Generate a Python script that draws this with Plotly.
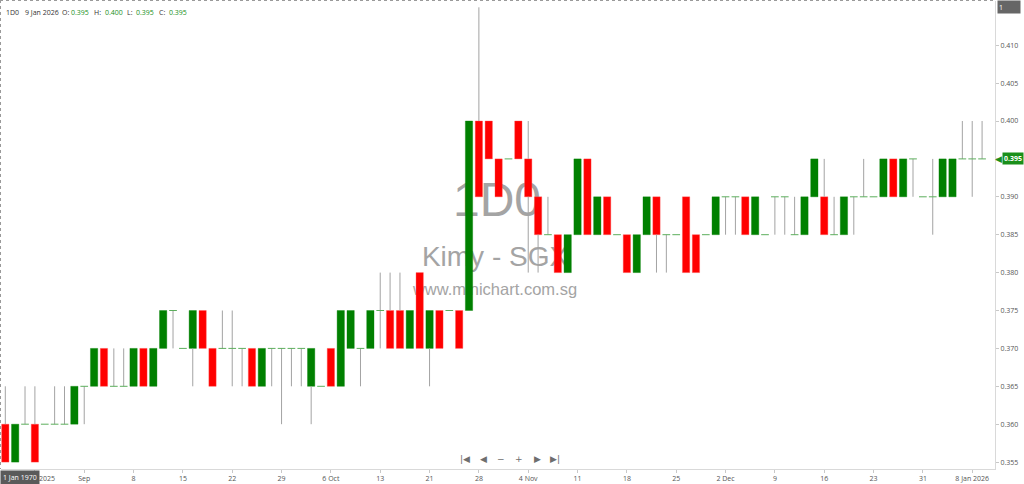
import plotly.graph_objects as go

# ---------------- data ----------------
dates = [
    "2025-08-20", "2025-08-21", "2025-08-22", "2025-08-25", "2025-08-26", "2025-08-27", "2025-08-28", "2025-08-29",
    "2025-09-01", "2025-09-02", "2025-09-03", "2025-09-04", "2025-09-05",
    "2025-09-08", "2025-09-09", "2025-09-10", "2025-09-11", "2025-09-12",
    "2025-09-15", "2025-09-16", "2025-09-17", "2025-09-18", "2025-09-19",
    "2025-09-22", "2025-09-23", "2025-09-24", "2025-09-25", "2025-09-26",
    "2025-09-29", "2025-09-30", "2025-10-01", "2025-10-02", "2025-10-03",
    "2025-10-06", "2025-10-07", "2025-10-08", "2025-10-09", "2025-10-10",
    "2025-10-13", "2025-10-14", "2025-10-15", "2025-10-16", "2025-10-17",
    "2025-10-21", "2025-10-22", "2025-10-23", "2025-10-24",
    "2025-10-27", "2025-10-28", "2025-10-29", "2025-10-30", "2025-10-31",
    "2025-11-03", "2025-11-04", "2025-11-05", "2025-11-06", "2025-11-07",
    "2025-11-10", "2025-11-11", "2025-11-12", "2025-11-13", "2025-11-14",
    "2025-11-17", "2025-11-18", "2025-11-19", "2025-11-20", "2025-11-21",
    "2025-11-24", "2025-11-25", "2025-11-26", "2025-11-27", "2025-11-28",
    "2025-12-01", "2025-12-02", "2025-12-03", "2025-12-04", "2025-12-05",
    "2025-12-08", "2025-12-09", "2025-12-10", "2025-12-11", "2025-12-12",
    "2025-12-15", "2025-12-16", "2025-12-17", "2025-12-18", "2025-12-19",
    "2025-12-22", "2025-12-23", "2025-12-24", "2025-12-26",
    "2025-12-29", "2025-12-30", "2025-12-31",
    "2026-01-02", "2026-01-05", "2026-01-06", "2026-01-07", "2026-01-08", "2026-01-09",
]

opens = [
    0.360, 0.355, 0.360, 0.360, 0.360, 0.360, 0.360, 0.360, 0.365, 0.365,
    0.370, 0.365, 0.365, 0.365, 0.370, 0.365, 0.370, 0.375, 0.370, 0.370,
    0.375, 0.370, 0.370, 0.370, 0.370, 0.370, 0.365, 0.370, 0.370, 0.370,
    0.370, 0.365, 0.365, 0.370, 0.365, 0.370, 0.370, 0.370, 0.375, 0.375,
    0.375, 0.370, 0.380, 0.370, 0.375, 0.375, 0.375, 0.375, 0.400, 0.400,
    0.395, 0.395, 0.400, 0.395, 0.390, 0.385, 0.385, 0.380, 0.385, 0.395,
    0.385, 0.390, 0.385, 0.385, 0.380, 0.385, 0.390, 0.385, 0.385, 0.390,
    0.385, 0.385, 0.385, 0.390, 0.390, 0.390, 0.385, 0.385, 0.390, 0.390,
    0.385, 0.385, 0.390, 0.390, 0.385, 0.385, 0.390, 0.390, 0.390, 0.390,
    0.395, 0.390, 0.395, 0.390, 0.390, 0.390, 0.390, 0.395, 0.395, 0.395,
]
highs = [
    0.365, 0.360, 0.365, 0.365, 0.360, 0.365, 0.365, 0.365, 0.365, 0.370,
    0.370, 0.370, 0.370, 0.370, 0.370, 0.370, 0.375, 0.375, 0.370, 0.375,
    0.375, 0.370, 0.375, 0.375, 0.370, 0.370, 0.370, 0.370, 0.370, 0.370,
    0.370, 0.370, 0.365, 0.370, 0.375, 0.375, 0.370, 0.375, 0.380, 0.380,
    0.380, 0.375, 0.380, 0.375, 0.375, 0.375, 0.375, 0.400, 0.415, 0.400,
    0.395, 0.395, 0.400, 0.400, 0.390, 0.390, 0.385, 0.385, 0.395, 0.395,
    0.390, 0.390, 0.385, 0.385, 0.385, 0.390, 0.390, 0.385, 0.385, 0.390,
    0.385, 0.385, 0.390, 0.390, 0.390, 0.390, 0.390, 0.385, 0.390, 0.390,
    0.390, 0.390, 0.395, 0.395, 0.390, 0.390, 0.390, 0.395, 0.390, 0.395,
    0.395, 0.395, 0.395, 0.390, 0.395, 0.395, 0.395, 0.400, 0.400, 0.400,
]
lows = [
    0.355, 0.355, 0.360, 0.355, 0.360, 0.360, 0.360, 0.360, 0.360, 0.365,
    0.365, 0.365, 0.365, 0.365, 0.365, 0.365, 0.370, 0.370, 0.370, 0.365,
    0.370, 0.365, 0.370, 0.365, 0.365, 0.365, 0.365, 0.365, 0.360, 0.365,
    0.365, 0.360, 0.365, 0.365, 0.365, 0.370, 0.365, 0.370, 0.370, 0.370,
    0.370, 0.370, 0.370, 0.365, 0.370, 0.375, 0.370, 0.375, 0.390, 0.395,
    0.390, 0.395, 0.395, 0.380, 0.380, 0.385, 0.380, 0.380, 0.385, 0.385,
    0.385, 0.385, 0.385, 0.380, 0.380, 0.385, 0.380, 0.380, 0.385, 0.380,
    0.380, 0.385, 0.385, 0.385, 0.385, 0.385, 0.385, 0.385, 0.385, 0.385,
    0.385, 0.385, 0.390, 0.385, 0.385, 0.385, 0.385, 0.390, 0.390, 0.390,
    0.390, 0.390, 0.390, 0.390, 0.385, 0.390, 0.390, 0.395, 0.390, 0.395,
]
closes = [
    0.355, 0.360, 0.360, 0.355, 0.360, 0.360, 0.360, 0.365, 0.365, 0.370,
    0.365, 0.365, 0.365, 0.370, 0.365, 0.370, 0.375, 0.375, 0.370, 0.375,
    0.370, 0.365, 0.370, 0.370, 0.370, 0.365, 0.370, 0.370, 0.370, 0.370,
    0.370, 0.370, 0.365, 0.365, 0.375, 0.375, 0.370, 0.375, 0.375, 0.370,
    0.370, 0.375, 0.370, 0.375, 0.370, 0.375, 0.370, 0.400, 0.390, 0.395,
    0.390, 0.395, 0.395, 0.390, 0.385, 0.385, 0.380, 0.385, 0.395, 0.385,
    0.390, 0.385, 0.385, 0.380, 0.385, 0.390, 0.385, 0.385, 0.385, 0.380,
    0.380, 0.385, 0.390, 0.390, 0.390, 0.385, 0.390, 0.385, 0.390, 0.390,
    0.385, 0.390, 0.395, 0.385, 0.385, 0.390, 0.390, 0.390, 0.390, 0.395,
    0.390, 0.395, 0.395, 0.390, 0.390, 0.395, 0.395, 0.395, 0.395, 0.395,
]

tick_dates = ["2025-08-25", "2025-09-01", "2025-09-08", "2025-09-15", "2025-09-22", "2025-09-29",
              "2025-10-06", "2025-10-13", "2025-10-21", "2025-10-28", "2025-11-04", "2025-11-11",
              "2025-11-18", "2025-11-25", "2025-12-02", "2025-12-09", "2025-12-16", "2025-12-23",
              "2025-12-31", "2026-01-08"]
tick_labels = ["25 Aug 2025", "Sep", "8", "15", "22", "29", "6 Oct", "13", "21", "28", "4 Nov", "11",
               "18", "25", "2 Dec", "9", "16", "23", "31", "8 Jan 2026"]

price_ticks = [0.355, 0.360, 0.365, 0.370, 0.375, 0.380, 0.385, 0.390, 0.395, 0.400, 0.405, 0.410]
price_labels = ["0.355", "0.360", "0.365", "0.370", "0.375", "0.380", "0.385", "0.390", "",
                "0.400", "0.405", "0.410"]   # 0.395 is shown by the last-price marker

symbol = "1D0"
last_date = "9 Jan 2026"
last_o, last_h, last_l, last_c = "0.395", "0.400", "0.395", "0.395"

# ---------------- styling ----------------
W, H = 1024, 484
ML, MR, MT, MB = 1, 29, 1, 15
PW, PH = W - ML - MR, H - MT - MB

GREEN = "#008000"
RED = "#ff0000"
WICK = "#a3a3a3"
TXT = "#555555"
FONT = "Open Sans"


def px_x(px):
    return (px - ML) / PW


def px_y(py):
    return (H - MB - py) / PH


# derived drawing arrays
body_base, body_h, body_col, body_line = [], [], [], []
doji_x, doji_y = [], []
wick_x, wick_y = [], []
for d, o, h, l, c in zip(dates, opens, highs, lows, closes):
    top, bot = max(o, c), min(o, c)
    if h > top + 1e-9:
        wick_x += [d, d, None]
        wick_y += [top, h, None]
    if l < bot - 1e-9:
        wick_x += [d, d, None]
        wick_y += [l, bot, None]
    if abs(c - o) < 1e-9:
        body_base.append(None)
        body_h.append(None)
        body_col.append(GREEN)
        body_line.append(GREEN)
        doji_x.append(d)
        doji_y.append(o)
    else:
        body_base.append(bot)
        body_h.append(top - bot)
        up = c > o
        body_col.append(GREEN if up else RED)
        body_line.append("rgba(0,128,0,0.45)" if up else "rgba(255,80,80,0.45)")

fig = go.Figure()

# watermark (base subplot, drawn beneath the candles)
fig.add_trace(go.Scatter(
    x=[px_x(497), px_x(495), px_x(495)],
    y=[px_y(204), px_y(259), px_y(291)],
    mode="text",
    text=[symbol, "Kimy - SGX", "www.minichart.com.sg"],
    textfont=dict(family="Liberation Sans", size=[48, 28, 16.5], color="#a4a4a4"),
    hoverinfo="skip", showlegend=False, xaxis="x", yaxis="y",
))

# candle bodies
fig.add_trace(go.Bar(
    x=dates, y=body_h, base=body_base, width=0.74,
    marker=dict(color=body_col, line=dict(color=body_line, width=0.8)),
    hoverinfo="skip", showlegend=False, xaxis="x2", yaxis="y2",
))
# wicks (outside the bodies)
fig.add_trace(go.Scatter(
    x=wick_x, y=wick_y, mode="lines", line=dict(color=WICK, width=1),
    hoverinfo="skip", showlegend=False, xaxis="x2", yaxis="y2",
))
# flat (open == close) bars
fig.add_trace(go.Scatter(
    x=doji_x, y=doji_y, mode="markers",
    marker=dict(symbol="line-ew", size=5.5, line=dict(color="#5cae5c", width=1)),
    hoverinfo="skip", showlegend=False, xaxis="x2", yaxis="y2",
))

annotations = []
# header
hdr = [(4, symbol, "#333333"), (23, last_date, "#333333"), (60, "O:", "#333333"), (69, last_o, "#1a8f1a"),
       (92, "H:", "#333333"), (103, last_h, "#1a8f1a"), (125, "L:", "#333333"), (134, last_l, "#1a8f1a"),
       (157, "C:", "#333333"), (167, last_c, "#1a8f1a")]
for x, t, col in hdr:
    annotations.append(dict(xref="paper", yref="paper", x=px_x(x), y=px_y(12), xanchor="left",
                            yanchor="middle", text=t, showarrow=False,
                            font=dict(family=FONT, size=7, color=col)))
# navigation controls
nav = [(465, "|◀"), (483, "◀"), (501, "−"), (519, "+"), (537, "▶"), (555, "▶|")]
for x, t in nav:
    annotations.append(dict(xref="paper", yref="paper", x=px_x(x), y=px_y(459), xanchor="center",
                            yanchor="middle", text=t, showarrow=False,
                            font=dict(family="DejaVu Sans", size=9, color="#6e6e6e")))
# last price marker
annotations.append(dict(xref="paper", yref="y2", x=px_x(1002), y=0.395, xanchor="left", yanchor="middle",
                        text="<b>0.395</b>", showarrow=False, bgcolor="#1a8f1a", borderpad=1,
                        font=dict(family=FONT, size=7, color="white")))
annotations.append(dict(xref="paper", yref="y2", x=px_x(1003.5), y=0.395, xanchor="right", yanchor="middle",
                        text="◀", showarrow=False,
                        font=dict(family="DejaVu Sans", size=9, color="#1a8f1a")))
# top-right box
annotations.append(dict(xref="paper", yref="paper", x=px_x(997), y=px_y(0), xanchor="left", yanchor="top",
                        text="1", showarrow=False, bgcolor="#666666", width=20, height=10, align="left",
                        font=dict(family=FONT, size=7, color="white")))
# bottom-left date box
annotations.append(dict(xref="paper", yref="paper", x=px_x(0), y=px_y(470), xanchor="left", yanchor="top",
                        text="1 Jan 1970", showarrow=False, bgcolor="#5a5a5a", borderpad=2,
                        font=dict(family=FONT, size=7, color="white")))

shapes = [
    dict(type="line", xref="paper", yref="paper", x0=px_x(0), x1=px_x(995), y0=px_y(0.5), y1=px_y(0.5),
         line=dict(color="#9a9a9a", width=1, dash="dot")),
    dict(type="line", xref="paper", yref="paper", x0=px_x(0.5), x1=px_x(0.5), y0=px_y(0), y1=px_y(469),
         line=dict(color="#9a9a9a", width=1, dash="dot")),
]

fig.update_layout(
    template="none",
    width=W, height=H,
    margin=dict(l=ML, r=MR, t=MT, b=MB, pad=0),
    paper_bgcolor="white", plot_bgcolor="white",
    showlegend=False,
    barmode="overlay",
    font=dict(family=FONT, size=7, color=TXT),
    xaxis=dict(range=[0, 1], visible=False, fixedrange=True),
    yaxis=dict(range=[0, 1], visible=False, fixedrange=True),
    xaxis2=dict(
        overlaying="x", anchor="y2", side="bottom", type="category",
        categoryorder="array", categoryarray=dates,
        range=[-0.436, 100.31],
        tickmode="array", tickvals=tick_dates, ticktext=tick_labels,
        ticks="outside", ticklen=3, tickcolor="#c8c8c8", tickwidth=1,
        showline=True, linecolor="#d9d9d9", linewidth=1,
        showgrid=False, zeroline=False,
        tickfont=dict(family=FONT, size=7, color=TXT),
    ),
    yaxis2=dict(
        overlaying="y", anchor="x2", side="right",
        range=[0.35409, 0.415831],
        tickmode="array", tickvals=price_ticks, ticktext=price_labels,
        ticks="outside", ticklen=3, tickcolor="#c8c8c8", tickwidth=1,
        showline=True, linecolor="#d9d9d9", linewidth=1,
        showgrid=False, zeroline=False,
        tickfont=dict(family=FONT, size=7, color=TXT),
    ),
    annotations=annotations,
    shapes=shapes,
)

fig.write_html("out.html", config={"displayModeBar": False},
               post_script="document.body.style.margin='0';document.body.style.overflow='hidden';")
